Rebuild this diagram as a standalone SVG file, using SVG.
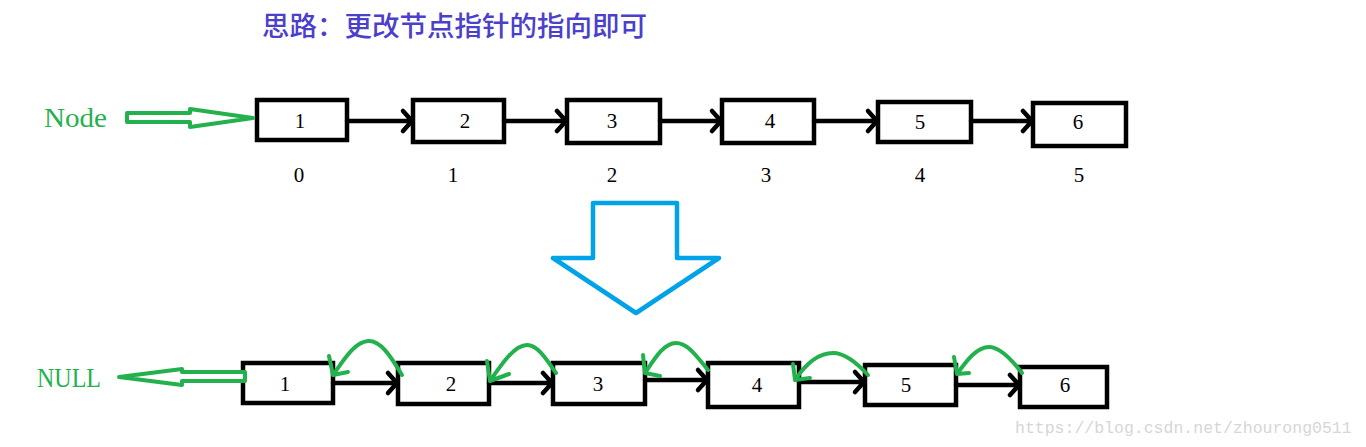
<svg xmlns="http://www.w3.org/2000/svg" width="1366" height="447" viewBox="0 0 1366 447">
<style>
.box{fill:#fff;stroke:#000;stroke-width:4.5}
.num{font-family:"Liberation Serif",serif;font-size:21px;fill:#000;text-anchor:middle}
.idx{font-family:"Liberation Serif",serif;font-size:21px;fill:#000;text-anchor:middle}
.conn{fill:none;stroke:#000;stroke-width:4.5;stroke-linecap:round;stroke-linejoin:round}
.garc{fill:none;stroke:#22b14c;stroke-width:4;stroke-linecap:round;stroke-linejoin:round}
.gtxt{font-family:"Liberation Serif",serif;font-size:27px;fill:#22b14c}
</style>
<rect width="1366" height="447" fill="#fff"/>
<text x="262" y="36" font-family="'Noto Sans CJK SC',sans-serif" font-size="27.5" font-weight="500" fill="#4a40cc">思路：更改节点指针的指向即可</text>

<g id="node-label"><text class="gtxt" x="44" y="127" textLength="63" lengthAdjust="spacingAndGlyphs">Node</text></g>
<g id="null-label"><text class="gtxt" x="37" y="387" textLength="64" lengthAdjust="spacingAndGlyphs">NULL</text></g>

<g id="top1"><rect class="box" x="257" y="100" width="90" height="40"/><text class="num" x="300" y="128">1</text></g>
<g id="top2"><rect class="box" x="413" y="100" width="91" height="42"/><text class="num" x="465" y="128">2</text></g>
<g id="top3"><rect class="box" x="567" y="100" width="93" height="43"/><text class="num" x="612" y="128">3</text></g>
<g id="top4"><rect class="box" x="722" y="100" width="92" height="43"/><text class="num" x="770" y="128">4</text></g>
<g id="top5"><rect class="box" x="878" y="102" width="93" height="40"/><text class="num" x="920" y="129">5</text></g>
<g id="top6"><rect class="box" x="1033" y="103" width="93" height="43"/><text class="num" x="1078" y="129">6</text></g>

<g id="indices">
<text class="idx" x="299" y="182">0</text>
<text class="idx" x="453" y="182">1</text>
<text class="idx" x="612" y="182">2</text>
<text class="idx" x="766" y="182">3</text>
<text class="idx" x="920" y="182">4</text>
<text class="idx" x="1079" y="182">5</text>
</g>

<g id="bot1"><rect class="box" x="243" y="363" width="90" height="40"/><text class="num" x="285" y="391">1</text></g>
<g id="bot2"><rect class="box" x="398" y="363" width="91" height="41"/><text class="num" x="451" y="391">2</text></g>
<g id="bot3"><rect class="box" x="553" y="363" width="92" height="41"/><text class="num" x="598" y="391">3</text></g>
<g id="bot4"><rect class="box" x="708" y="363" width="91" height="44"/><text class="num" x="757" y="392">4</text></g>
<g id="bot5"><rect class="box" x="865" y="365" width="91" height="40"/><text class="num" x="906" y="392">5</text></g>
<g id="bot6"><rect class="box" x="1020" y="367" width="87" height="40"/><text class="num" x="1065" y="392">6</text></g>

<g id="big-arrow"><polygon points="593,203 677,203 677,258 719,258 636,313 553,258 593,258" fill="#fff" stroke="#00a2e8" stroke-width="4.5" stroke-linejoin="round"/></g>

<g id="connectors">
<path class="conn" d="M347,121 H412 M403,111 L412,121 L403,131"/>
<path class="conn" d="M504,121 H566 M557,111 L566,121 L557,131"/>
<path class="conn" d="M660,121 H721 M712,111 L721,121 L712,131"/>
<path class="conn" d="M814,121 H877 M868,111 L877,121 L868,131"/>
<path class="conn" d="M971,121 H1032 M1023,111 L1032,121 L1023,131"/>

<path class="conn" d="M333,383 H397 M388,373 L397,383 L388,393"/>
<path class="conn" d="M489,383 H552 M543,373 L552,383 L543,393"/>
<path class="conn" d="M645,380 H707 M698,370 L707,380 L698,390"/>
<path class="conn" d="M799,382 H864 M855,372 L864,382 L855,392"/>
<path class="conn" d="M956,385 H1019 M1010,375 L1019,385 L1010,395"/>

<polygon points="127,113 190,113 190,109 253,118 190,127 190,122 127,122" fill="#fff" stroke="#22b14c" stroke-width="4" stroke-linejoin="round"/>
<polygon points="245,372 182,372 182,369 119,377 182,385 182,381 245,381" fill="#fff" stroke="#22b14c" stroke-width="4" stroke-linejoin="round"/>

<path class="garc" d="M402,375 C390,355 380,340 368,341 C355,342 345,358 333,375 M329,356 L333,375 L348,372"/>
<path class="garc" d="M556,373 C545,357 537,345 527,345 C515,345 503,362 490,381 M487,361 L490,381 L509,374"/>
<path class="garc" d="M708,370 C697,357 688,343 676,343 C664,343 655,358 645,373 M643,355 L645,373 L660,376"/>
<path class="garc" d="M868,375 C857,363 845,353 833,353 C818,353 805,365 795,380 M793,364 L795,380 L810,378"/>
<path class="garc" d="M1022,373 C1012,360 1000,347 989,347 C977,347 967,360 957,374 M954,357 L957,374 L969,373"/>
</g>

<text x="1015" y="433" font-family="'Liberation Mono',monospace" font-size="16.5" fill="#d6d6d6">https://blog.csdn.net/zhourong0511</text>
</svg>
